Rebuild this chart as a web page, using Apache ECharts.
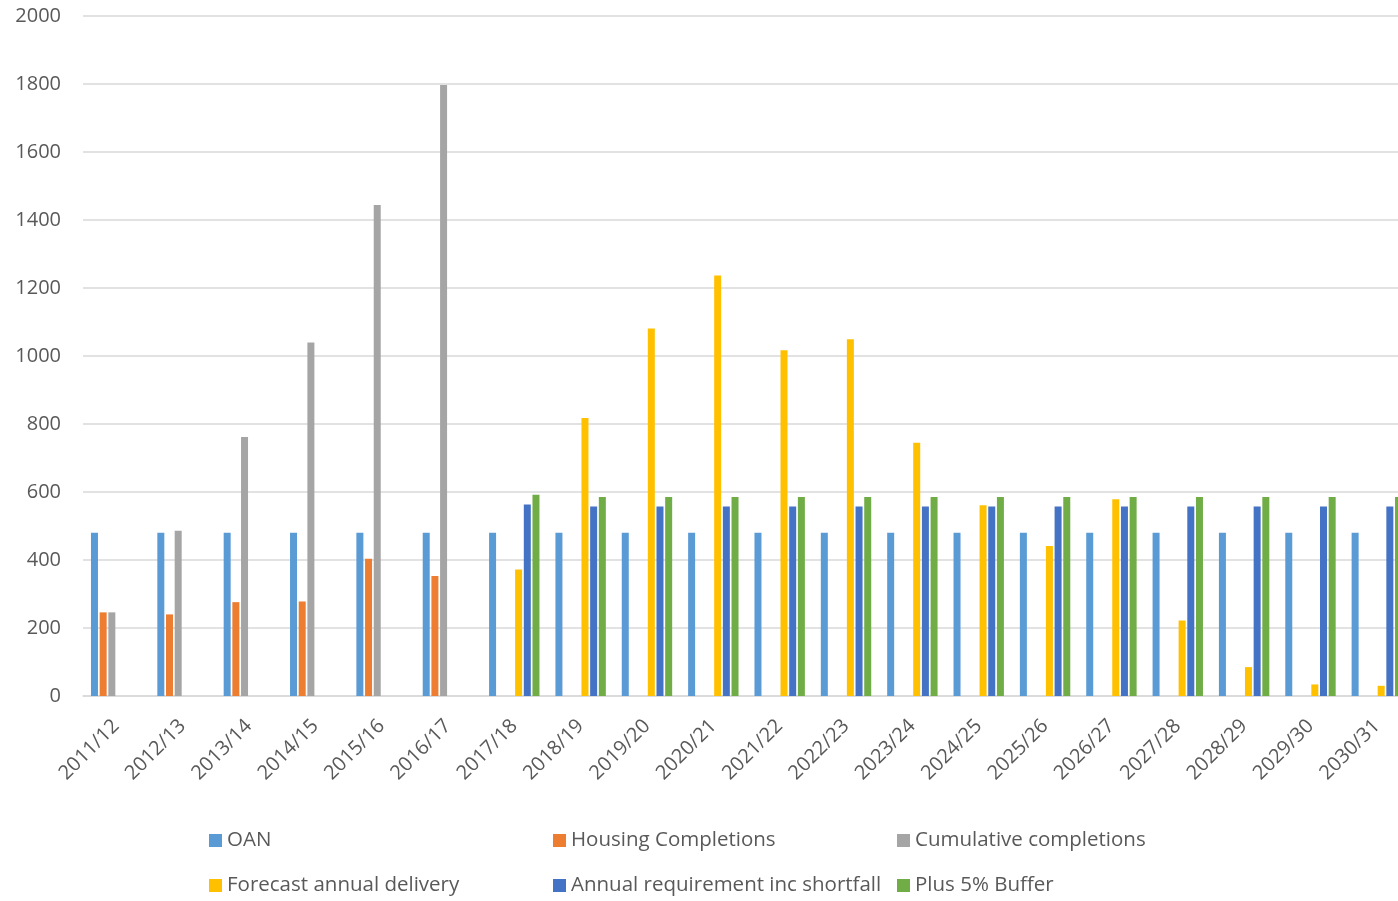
<!DOCTYPE html>
<html>
<head>
<meta charset="utf-8">
<script src="https://cdn.jsdelivr.net/npm/echarts@6/dist/echarts.min.js"></script>
<style>
html,body{margin:0;padding:0;background:#fff;}
#chart{width:1398px;height:901px;}
</style>
</head>
<body>
<div id="chart"></div>
<script>
var categories = ['2011/12','2012/13','2013/14','2014/15','2015/16','2016/17','2017/18','2018/19','2019/20','2020/21','2021/22','2022/23','2023/24','2024/25','2025/26','2026/27','2027/28','2028/29','2029/30','2030/31'];
var oan = [480,480,480,480,480,480,480,480,480,480,480,480,480,480,480,480,480,480,480,480];
var housingCompletions = [246,240,276,278,404,353,null,null,null,null,null,null,null,null,null,null,null,null,null,null];
var cumulativeCompletions = [246,486,762,1040,1444,1797,null,null,null,null,null,null,null,null,null,null,null,null,null,null];
var forecastAnnual = [null,null,null,null,null,null,372,818,1081,1237,1017,1049,745,561,441,579,222,85,34,30];
var annualRequirement = [null,null,null,null,null,null,563,557,557,557,557,557,557,557,557,557,557,557,557,557];
var plusBuffer = [null,null,null,null,null,null,592,585,585,585,585,585,585,585,585,585,585,585,585,585];
var yTicks = [0,200,400,600,800,1000,1200,1400,1600,1800,2000];

var seriesNames = ['OAN','Housing Completions','Cumulative completions','Forecast annual delivery','Annual requirement inc shortfall','Plus 5% Buffer'];
var seriesData = [oan, housingCompletions, cumulativeCompletions, forecastAnnual, annualRequirement, plusBuffer];
var colors = ['#5B9BD5','#ED7D31','#A5A5A5','#FFC000','#4472C4','#70AD47'];
var legendPos = [[209,830],[553,830],[897,830],[209,875],[553,875],[897,875]];

var FONT = '"Open Sans", "DejaVu Sans", sans-serif';
var chart = echarts.init(document.getElementById('chart'));
chart.setOption({
  animation: false,
  backgroundColor: '#fff',
  color: colors,
  grid: {left: 83, width: 1327, top: 16, height: 680, containLabel: false, outerBoundsMode: 'none'},
  legend: seriesNames.map(function(n, i){
    return {
      data: [n], left: legendPos[i][0], top: legendPos[i][1], padding: 0,
      itemWidth: 13, itemHeight: 13, icon: 'rect', itemGap: 6,
      textStyle: {fontFamily: FONT, fontSize: 20.5, color: '#595959', lineHeight: 20}
    };
  }),
  xAxis: {
    type: 'category', data: categories,
    axisTick: {show: false},
    axisLine: {lineStyle: {color: '#D9D9D9', width: 1.5}},
    axisLabel: {rotate: 45, margin: 27, fontFamily: FONT, fontSize: 20, color: '#595959', interval: 0}
  },
  yAxis: {
    type: 'value', min: 0, max: 2000, interval: 200,
    axisLine: {show: false}, axisTick: {show: false},
    splitLine: {lineStyle: {color: '#D9D9D9', width: 1.5}},
    axisLabel: {margin: 22, fontFamily: FONT, fontSize: 20, color: '#595959',
      formatter: function(v){ return yTicks.indexOf(v) >= 0 ? String(v) : ''; }}
  },
  series: seriesNames.map(function(n, i){
    return {
      name: n, type: 'bar', data: seriesData[i],
      barWidth: 7, barGap: '24%',
      itemStyle: {color: colors[i]}
    };
  })
});
</script>
</body>
</html>
